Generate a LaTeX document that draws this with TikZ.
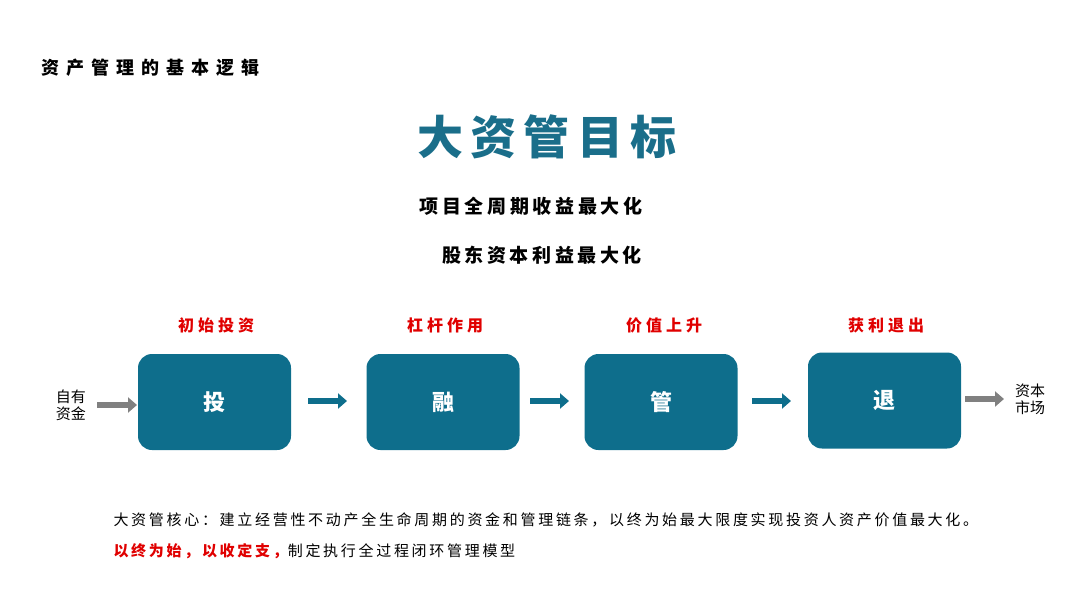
\documentclass[tikz,border=0pt]{standalone}
\usepackage{fontspec}
\setmainfont{Noto Sans CJK SC}
\usetikzlibrary{arrows.meta}
\definecolor{teal1}{HTML}{0E6E8C}
\definecolor{title}{HTML}{1A6E8A}
\definecolor{grayA}{HTML}{808080}
\definecolor{redA}{HTML}{E00000}
\newcommand{\ls}[1]{\addfontfeature{LetterSpace=#1}}
\begin{document}
\begin{tikzpicture}[x=1pt,y=-1pt,
  box/.style={draw=none,fill=teal1,rounded corners=14pt,minimum width=153pt,minimum height=96pt,text=white,font=\fontsize{22}{24}\selectfont\bfseries},
  lab/.style={text=redA,font=\fontsize{16}{18}\selectfont\bfseries\ls{25}},
  tarr/.style={teal1,line width=6pt,-{Triangle[length=9pt,width=15pt]}},
  garr/.style={grayA,line width=6pt,-{Triangle[length=9pt,width=15pt]}},
  side/.style={font=\fontsize{15}{17}\selectfont,align=center}]
\useasboundingbox (0,0) rectangle (1080,608);
\node[anchor=west,font=\fontsize{18}{20}\selectfont\bfseries\ls{39}] (t0) at (38,68) {资产管理的基本逻辑};
\node[text=title,font=\fontsize{46}{50}\selectfont\bfseries\ls{16}] (t1) at (547,137) {大资管目标};
\node[font=\fontsize{19}{21}\selectfont\bfseries\ls{19}] (g1) at (531,206) {项目全周期收益最大化};
\node[font=\fontsize{19}{21}\selectfont\bfseries\ls{19}] (g2) at (542,255) {股东资本利益最大化};
\node[lab] (l1) at (216,325) {初始投资};
\node[lab] (l2) at (445,325) {杠杆作用};
\node[lab] (l3) at (664,325) {价值上升};
\node[lab] (l4) at (886,325) {获利退出};
\node[box] (b1) at (214.5,402) {投};
\node[box] (b2) at (443,402) {融};
\node[box] (b3) at (661,402) {管};
\node[box] (b4) at (884.5,400.5) {退};
\node[side] (s1) at (71,405) {自有\\资金};
\node[side] (s2) at (1030,399) {资本\\市场};
\coordinate (a1s) at (97,405); \coordinate (a1e) at (137,405);
\coordinate (a5s) at (965,399); \coordinate (a5e) at (1004,399);
\coordinate (a2s) at (308,401); \coordinate (a2e) at (347,401);
\coordinate (a3s) at (530,401); \coordinate (a3e) at (569,401);
\coordinate (a4s) at (752,401); \coordinate (a4e) at (791,401);
\draw[garr] (a1s) -- (a1e);
\draw[garr] (a5s) -- (a5e);
\draw[tarr] (a2s) -- (a2e);
\draw[tarr] (a3s) -- (a3e);
\draw[tarr] (a4s) -- (a4e);
\node[anchor=west,font=\fontsize{15}{16}\selectfont\ls{18}] (p1) at (110,520) {大资管核心：建立经营性不动产全生命周期的资金和管理链条，以终为始最大限度实现投资人资产价值最大化。};
\node[anchor=west,font=\fontsize{15}{16}\selectfont\ls{18}] (p2) at (110,551) {\textcolor{redA}{\bfseries 以终为始，以收定支，}制定执行全过程闭环管理模型};
\end{tikzpicture}
\end{document}
